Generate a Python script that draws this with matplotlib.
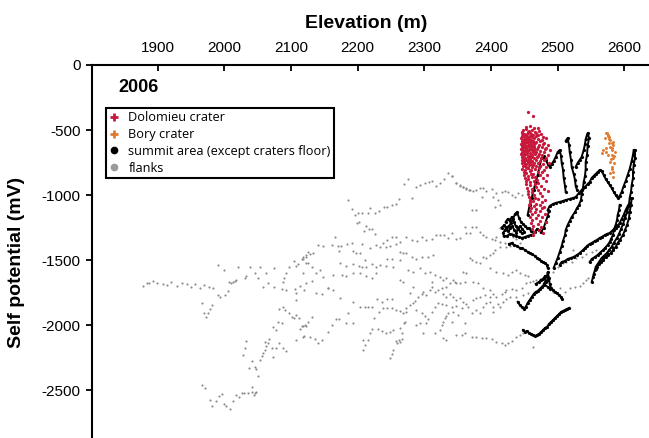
import numpy as np
import matplotlib
matplotlib.use("Agg")
import matplotlib.pyplot as plt
from matplotlib.lines import Line2D

plt.rcParams['font.family'] = ['Liberation Sans', 'DejaVu Sans']
plt.rcParams['axes.unicode_minus'] = False

# (elevation m, self potential mV)

# flanks - grey dots
flanks = [
    (1878, -1699), (1884, -1676), (1887, -1676), (1893, -1661), (1899, -1676), (1908, -1684),
    (1914, -1692), (1920, -1669), (1929, -1699), (1936, -1676), (1944, -1684), (1950, -1707),
    (1956, -1684), (1963, -1715), (1969, -1692), (1977, -1707), (1983, -1715), (1990, -1769),
    (1993, -1784), (2001, -1769), (2005, -1738), (2010, -1676), (2013, -1669), (2016, -1661),
    (1966, -1830), (1981, -1845), (1978, -1876), (1969, -1907), (1972, -1938), (1975, -1907),
    (2033, -2122), (2031, -2174), (2028, -2230), (2041, -2274), (2037, -2332), (2046, -2325),
    (2048, -2340), (2050, -2392), (2053, -2268), (2056, -2238), (2058, -2212), (2061, -2192),
    (2063, -2161), (2065, -2140), (2067, -2105), (2061, -2128), (2071, -2179), (2073, -2243),
    (2077, -2179), (2082, -2140), (2088, -2179), (2093, -2197), (2073, -2012), (2077, -2038),
    (2080, -1974), (2086, -1982), (2091, -1884), (2088, -1863), (2082, -1879), (2097, -1909),
    (2101, -1936), (2104, -1948), (2108, -1922), (2112, -1948), (2113, -2032), (2118, -2007),
    (2122, -2007), (2118, -2089), (2107, -2115),
    (1966, -2461), (1971, -2486), (1978, -2576), (1982, -2622), (1987, -2581), (1992, -2545),
    (1996, -2532), (2003, -2622), (2008, -2648), (2000, -2607), (2013, -2581), (2017, -2538),
    (2022, -2555), (2026, -2525), (2029, -2520), (2035, -2525), (2041, -2478), (2042, -2512),
    (2046, -2520), (2044, -2538), (2048, -2512),
    (2107, -1807), (2108, -1756), (2113, -1699), (2119, -1730), (2106, -1725), (2093, -1730),
    (2086, -1725), (2088, -1666), (2074, -1705), (2065, -1679), (2058, -1709),
    (1990, -1538), (1999, -1576), (2020, -1551), (2031, -1640), (2032, -1622), (2039, -1556),
    (2046, -1602), (2050, -1640), (2053, -1551), (2063, -1597), (2074, -1559), (2089, -1640),
    (2093, -1602), (2097, -1556), (2104, -1505), (2108, -1546), (2110, -1530), (2116, -1494),
    (2118, -1474), (2122, -1461), (2125, -1525), (2118, -1602), (2126, -1436), (2007, -1666),
    (2017, -1653),
    (2185, -1038), (2191, -1110), (2196, -1153), (2199, -1213), (2202, -1205), (2201, -1136),
    (2207, -1140), (2215, -1136), (2219, -1097), (2226, -1136), (2232, -1120), (2239, -1090),
    (2244, -1094), (2251, -1079), (2257, -1069), (2262, -1028), (2270, -915), (2276, -874),
    (2282, -1025), (2287, -936), (2294, -925), (2301, -910), (2307, -897), (2311, -892),
    (2318, -930), (2323, -910), (2330, -879), (2336, -833), (2342, -854), (2348, -910),
    (2354, -923), (2358, -936), (2363, -948), (2367, -961),
    (2209, -1276), (2212, -1238), (2217, -1263), (2221, -1263), (2226, -1300), (2166, -1325),
    (2161, -1386), (2148, -1392), (2140, -1386), (2133, -1448), (2128, -1453), (2122, -1479),
    (2118, -1494), (2123, -1525), (2131, -1551), (2137, -1602), (2143, -1576), (2148, -1628),
    (2155, -1717), (2163, -1615), (2170, -1392), (2175, -1392), (2172, -1428), (2184, -1376),
    (2191, -1371), (2193, -1428), (2206, -1376), (2203, -1448), (2198, -1448), (2211, -1499),
    (2206, -1551), (2218, -1409), (2228, -1384), (2233, -1402), (2238, -1366), (2244, -1346),
    (2243, -1402), (2252, -1320), (2258, -1325), (2263, -1359), (2257, -1376), (2249, -1392),
    (2263, -1436), (2273, -1325), (2281, -1346), (2289, -1351), (2296, -1320), (2303, -1346),
    (2311, -1340), (2318, -1307), (2323, -1307), (2329, -1307), (2335, -1333), (2342, -1290),
    (2348, -1340), (2353, -1333), (2361, -1243), (2363, -1290), (2368, -1294),
    (2244, -1494), (2251, -1494), (2263, -1499), (2268, -1448), (2273, -1448), (2282, -1479),
    (2288, -1494), (2297, -1479), (2305, -1479), (2313, -1461), (2275, -1576), (2283, -1589),
    (2293, -1563), (2301, -1602), (2308, -1589), (2316, -1615), (2323, -1628), (2333, -1640),
    (2343, -1653), (2348, -1679), (2358, -1589), (2363, -1602), (2173, -1525), (2183, -1546),
    (2193, -1530), (2202, -1546), (2213, -1551), (2221, -1530), (2228, -1551), (2233, -1538),
    (2243, -1546), (2253, -1551), (2176, -1615), (2183, -1622), (2193, -1602), (2203, -1602),
    (2213, -1622), (2221, -1640), (2228, -1602),
    (2123, -1679), (2131, -1659), (2138, -1756), (2146, -1761), (2156, -1717), (2163, -1730),
    (2173, -1794), (2193, -1820), (2203, -1859), (2211, -1859), (2215, -1863), (2221, -1859),
    (2229, -1802), (2236, -1820), (2244, -1802), (2251, -1802), (2185, -1909), (2183, -1982),
    (2193, -1986), (2172, -1956), (2167, -1956), (2161, -2000), (2155, -2051), (2146, -2115),
    (2140, -2140), (2136, -2109), (2128, -2089), (2119, -2084), (2131, -1936), (2125, -1974),
    (2121, -2000), (2116, -2007), (2208, -2115), (2211, -2153), (2208, -2192), (2215, -2115),
    (2218, -2063), (2222, -2032), (2231, -2032), (2236, -2043), (2242, -2058), (2248, -2051),
    (2253, -2038), (2263, -2025), (2269, -1986), (2271, -1974), (2267, -2063), (2262, -2115),
    (2259, -2140), (2257, -2120), (2263, -2128), (2266, -2109), (2253, -2192), (2252, -2222),
    (2249, -2255), (2224, -1948), (2232, -1897), (2238, -1871), (2244, -1871), (2251, -1871),
    (2258, -1884), (2263, -1889), (2268, -1909), (2272, -1897), (2273, -1871), (2278, -1845),
    (2283, -1832), (2286, -1812), (2291, -1786), (2296, -1761), (2298, -1743), (2303, -1769),
    (2308, -1730), (2312, -1709), (2316, -1743), (2320, -1730), (2326, -1717), (2328, -1761),
    (2333, -1786), (2338, -1761), (2343, -1782), (2348, -1807), (2353, -1794), (2358, -1820),
    (2363, -1838), (2365, -1859), (2288, -1884), (2296, -1909), (2301, -1930), (2303, -1986),
    (2305, -1956), (2311, -1897), (2316, -1859), (2320, -1828), (2326, -1838), (2333, -1845),
    (2341, -1859), (2348, -1853), (2356, -1871), (2293, -1982), (2288, -2000), (2298, -2058),
    (2316, -2063), (2323, -2038), (2326, -2000), (2328, -1974), (2331, -1948), (2333, -1930),
    (2335, -1909), (2341, -1974), (2328, -2102), (2333, -2115), (2348, -2076), (2356, -2076),
    (2361, -2063), (2361, -1986), (2351, -1922), (2343, -1897), (2333, -1705), (2338, -1679),
    (2346, -1666), (2353, -1679), (2361, -1666), (2278, -1756), (2283, -1709), (2263, -1653),
    (2268, -1666), (2311, -1666), (2328, -1653),
    (2371, -1499), (2378, -1512), (2383, -1525), (2388, -1474), (2393, -1486), (2398, -1461),
    (2403, -1448), (2406, -1423), (2413, -1397), (2421, -1371), (2431, -1359), (2438, -1340),
    (2443, -1371), (2446, -1340), (2451, -1320), (2393, -1325), (2401, -1340), (2406, -1346),
    (2408, -1320), (2371, -1243), (2378, -1243), (2388, -1307), (2371, -1115), (2378, -1115),
    (2406, -1090), (2413, -1076),
    (2373, -1807), (2378, -1794), (2383, -1786), (2391, -1769), (2398, -1782), (2403, -1761),
    (2408, -1782), (2416, -1763), (2421, -1743), (2423, -1730), (2431, -1725), (2438, -1730),
    (2446, -1717), (2453, -1679), (2458, -1666), (2463, -1659), (2468, -1653), (2473, -1648),
    (2478, -1640), (2371, -2089), (2378, -2094), (2386, -2102), (2393, -2102), (2401, -2109),
    (2408, -2128), (2416, -2136), (2421, -2153), (2426, -2140), (2432, -2120), (2438, -2094),
    (2443, -2076), (2448, -2058), (2463, -2166), (2378, -1884), (2388, -1859), (2393, -1832),
    (2398, -1820), (2403, -1859), (2410, -1838), (2418, -1820), (2423, -1802), (2371, -1909),
    (2383, -1909), (2403, -1897), (2413, -1863),
    (2493, -1743), (2503, -1717), (2511, -1743), (2518, -1717), (2526, -1709), (2533, -1699),
    (2538, -1679), (2543, -1653), (2545, -1640), (2513, -1512), (2521, -1512), (2528, -1486),
    (2536, -1474), (2543, -1453), (2551, -1436), (2558, -1423), (2493, -1589), (2500, -1551),
    (2503, -1525), (2508, -1525), (2523, -1423), (2431, -1589), (2438, -1576), (2443, -1597),
    (2451, -1615), (2455, -1622), (2413, -1256), (2421, -1243), (2431, -1294), (2433, -1320),
    (2341, -853), (2348, -910), (2353, -930), (2358, -940), (2363, -956), (2368, -961),
    (2373, -966), (2378, -961), (2383, -948), (2388, -948), (2393, -966), (2401, -956),
    (2408, -982), (2416, -974), (2421, -966), (2426, -974), (2431, -1000), (2436, -1013),
    (2441, -987), (2446, -1000), (2386, -1013), (2403, -1013), (2410, -1038),
    (2383, -1282), (2413, -1359), (2423, -1397), (2428, -1392), (2368, -1486), (2398, -1563),
    (2408, -1589), (2418, -1602), (2425, -1615), (2373, -1666), (2380, -1679), (2388, -1717),
    (2398, -1730), (2428, -1782), (2438, -1782), (2448, -1769), (2455, -1756),
]

# summit area (except craters floor) - black GPS tracks
summit_blob_a = [
    (2418, -1292), (2421, -1269), (2424, -1246), (2427, -1238), (2430, -1215), (2433, -1184),
    (2436, -1146), (2439, -1130), (2442, -1176), (2445, -1207), (2448, -1223), (2451, -1238),
    (2454, -1253), (2457, -1253), (2460, -1276), (2463, -1284), (2466, -1284), (2469, -1261),
    (2472, -1269), (2475, -1284),
]
summit_blob_b = [
    (2419, -1315), (2424, -1315), (2428, -1299), (2433, -1307), (2437, -1315), (2442, -1323),
    (2446, -1330), (2451, -1323), (2455, -1315), (2460, -1307),
]
summit_blob_c = [
    (2422, -1207), (2425, -1184), (2428, -1199), (2431, -1169), (2434, -1207), (2437, -1238),
    (2440, -1261), (2443, -1276), (2446, -1292),
]
summit_blob_d = [
    (2416, -1250), (2420, -1230), (2423, -1262), (2426, -1280), (2429, -1255), (2432, -1240),
    (2435, -1270), (2438, -1290), (2441, -1250), (2444, -1240), (2447, -1262), (2450, -1281),
]
summit_descent = [
    (2427, -1376), (2431, -1369), (2434, -1384), (2439, -1392), (2443, -1407), (2446, -1407),
    (2451, -1423), (2455, -1438), (2458, -1446), (2461, -1453), (2466, -1469), (2469, -1484),
    (2472, -1492), (2475, -1507), (2478, -1515), (2481, -1522), (2484, -1538), (2485, -1561),
]
summit_zig_a = [
    (2455, -1153), (2458, -1076), (2461, -1023), (2464, -961), (2467, -900), (2470, -846),
    (2473, -777), (2476, -715), (2479, -700), (2482, -730), (2485, -761), (2488, -784),
    (2491, -761), (2494, -738), (2497, -707), (2500, -669), (2503, -654), (2505, -700),
    (2506, -753), (2508, -807), (2509, -869), (2511, -930), (2512, -976),
]
summit_zig_b = [
    (2512, -584), (2515, -561), (2517, -615), (2518, -669), (2520, -730), (2521, -784),
    (2524, -838), (2526, -884), (2527, -930), (2529, -961),
]
summit_zig_c = [
    (2527, -784), (2530, -753), (2533, -730), (2536, -707), (2539, -654), (2541, -608),
    (2542, -569), (2544, -538), (2545, -523), (2547, -561), (2545, -623), (2544, -692),
    (2542, -746), (2542, -800), (2541, -853), (2539, -900), (2538, -946), (2536, -992),
    (2535, -1038), (2532, -1076), (2529, -1100), (2526, -1130), (2521, -1169), (2518, -1199),
    (2515, -1230), (2512, -1269), (2511, -1307), (2508, -1353), (2506, -1392), (2503, -1438),
    (2500, -1484), (2497, -1522), (2494, -1561),
]
summit_link = [(2475, -1284), (2479, -1253), (2482, -1207), (2485, -1161), (2487, -1123)]
summit_ridge = [
    (2485, -1115), (2488, -1084), (2493, -1069), (2497, -1061), (2503, -1053), (2508, -1046),
    (2512, -1038), (2518, -1030), (2523, -1023), (2527, -1015), (2532, -984), (2536, -961),
    (2541, -938), (2545, -915), (2548, -900), (2551, -869), (2554, -853), (2557, -838),
    (2560, -823), (2563, -807), (2566, -815), (2569, -846), (2572, -877), (2575, -900),
    (2578, -923), (2581, -946), (2584, -976), (2587, -1000), (2590, -1023), (2593, -1007),
    (2596, -976), (2599, -930), (2602, -892), (2605, -846), (2608, -800), (2611, -738),
    (2613, -692), (2614, -654),
]
summit_arc_a = [
    (2616, -654), (2616, -715), (2614, -769), (2613, -823), (2613, -869), (2611, -923),
    (2610, -976), (2608, -1023), (2607, -1076), (2604, -1130), (2601, -1176), (2598, -1223),
    (2595, -1261), (2592, -1299), (2589, -1330), (2584, -1369), (2581, -1399), (2577, -1423),
    (2574, -1446), (2569, -1469), (2566, -1484), (2563, -1507), (2560, -1530), (2557, -1553),
    (2556, -1576), (2554, -1607), (2553, -1630), (2551, -1669),
]
summit_arc_b = [
    (2611, -1023), (2610, -1076), (2608, -1130), (2607, -1176), (2604, -1230), (2601, -1269),
    (2598, -1307), (2593, -1346), (2590, -1369), (2587, -1399), (2583, -1423), (2580, -1446),
    (2575, -1461), (2572, -1476), (2568, -1499), (2565, -1515), (2562, -1530), (2559, -1553),
    (2557, -1569),
]
summit_arc_c = [
    (2593, -1076), (2592, -1115), (2590, -1153), (2589, -1192), (2587, -1230), (2584, -1269),
    (2583, -1307), (2580, -1338), (2578, -1361), (2575, -1384), (2571, -1407), (2568, -1423),
    (2563, -1446), (2560, -1461), (2556, -1476), (2551, -1492), (2548, -1515),
]
summit_mid = [
    (2503, -1538), (2506, -1515), (2511, -1507), (2515, -1492), (2520, -1484), (2524, -1476),
    (2529, -1461), (2533, -1446), (2538, -1423), (2541, -1407), (2544, -1392), (2548, -1376),
    (2551, -1369), (2556, -1353), (2559, -1346), (2563, -1330), (2566, -1323), (2571, -1307),
    (2574, -1299), (2578, -1292), (2583, -1269), (2587, -1253), (2590, -1238), (2593, -1215),
    (2596, -1184), (2599, -1153), (2602, -1115), (2605, -1084), (2608, -1061),
]
summit_star_a = [
    (2440, -1822), (2443, -1845), (2446, -1861), (2449, -1876), (2452, -1861), (2455, -1830),
    (2458, -1807), (2461, -1784), (2464, -1761), (2467, -1745), (2470, -1738), (2473, -1722),
    (2476, -1707), (2479, -1692), (2482, -1669), (2485, -1653), (2484, -1622), (2485, -1592),
    (2487, -1638), (2488, -1684), (2490, -1715), (2493, -1730), (2496, -1745), (2499, -1753),
    (2502, -1769), (2505, -1784), (2506, -1799),
]
summit_star_b = [
    (2467, -1684), (2472, -1669), (2475, -1653), (2478, -1645), (2481, -1622), (2482, -1661),
    (2479, -1684), (2485, -1707), (2488, -1722),
]
summit_bottom = [
    (2448, -2038), (2451, -2053), (2454, -2045), (2457, -2061), (2460, -2068), (2463, -2076),
    (2466, -2084), (2469, -2076), (2472, -2068), (2475, -2053), (2478, -2038), (2481, -2022),
    (2484, -2015), (2487, -1992), (2490, -1976), (2493, -1961), (2496, -1945), (2499, -1930),
    (2502, -1915), (2505, -1899), (2508, -1892), (2511, -1884), (2514, -1876), (2517, -1869),
]
summit_tracks = [summit_blob_a, summit_blob_b, summit_blob_c, summit_blob_d, summit_descent,
                 summit_zig_a, summit_zig_b, summit_zig_c, summit_link, summit_ridge,
                 summit_arc_a, summit_arc_b, summit_arc_c, summit_mid, summit_star_a,
                 summit_star_b, summit_bottom]

# Dolomieu crater - red
dolomieu = [
    (2455, -365), (2463, -392),
    (2453, -478), (2459, -470), (2464, -485), (2470, -481),
    (2448, -503), (2452, -496), (2457, -508), (2461, -499), (2466, -512), (2472, -505),
    (2446, -522), (2450, -531), (2455, -518), (2459, -526), (2463, -535), (2468, -521), (2475, -529),
    (2447, -545), (2451, -539), (2454, -551), (2458, -543), (2462, -556), (2467, -547), (2471, -538),
    (2478, -552), (2445, -563), (2449, -571), (2453, -559), (2457, -566), (2460, -575), (2465, -561),
    (2470, -569), (2476, -574), (2483, -562), (2446, -584), (2450, -590), (2452, -579), (2456, -595),
    (2459, -586), (2463, -581), (2468, -592), (2474, -583), (2480, -597), (2445, -604), (2448, -611),
    (2451, -600), (2455, -617), (2458, -606), (2462, -613), (2466, -603), (2472, -615), (2478, -607),
    (2486, -612), (2446, -626), (2449, -634), (2453, -622), (2457, -630), (2461, -637), (2465, -624),
    (2470, -633), (2476, -628), (2483, -640), (2445, -645), (2448, -652), (2452, -648), (2456, -657),
    (2460, -643), (2464, -655), (2469, -649), (2474, -660), (2481, -646), (2488, -655), (2446, -668),
    (2450, -675), (2454, -664), (2458, -679), (2463, -670), (2467, -666), (2472, -681), (2479, -673),
    (2445, -688), (2449, -695), (2452, -684), (2456, -699), (2461, -691), (2466, -686), (2471, -702),
    (2477, -694), (2485, -689), (2447, -710), (2451, -717), (2455, -706), (2459, -722), (2464, -713),
    (2469, -708), (2475, -719), (2482, -712), (2446, -731), (2450, -738), (2453, -727), (2458, -744),
    (2462, -735), (2468, -729), (2473, -742), (2480, -733), (2447, -752), (2451, -760), (2456, -749),
    (2460, -765), (2465, -756), (2471, -751), (2478, -763), (2487, -757), (2448, -776), (2452, -784),
    (2457, -772), (2462, -788), (2467, -779), (2474, -774), (2483, -786), (2447, -797), (2451, -806),
    (2455, -793), (2460, -811), (2466, -801), (2472, -795), (2480, -808), (2449, -822), (2453, -830),
    (2458, -818), (2463, -835), (2470, -826), (2477, -820), (2450, -846), (2455, -853), (2460, -841),
    (2466, -858), (2473, -849), (2484, -844), (2451, -868), (2456, -876), (2462, -864), (2469, -881),
    (2478, -872), (2452, -893), (2458, -901), (2464, -889), (2471, -905), (2482, -896), (2453, -918),
    (2459, -926), (2466, -914), (2475, -930), (2454, -944), (2461, -951), (2468, -940), (2479, -955),
    (2455, -968), (2462, -975), (2471, -964), (2485, -972), (2456, -991), (2464, -999), (2474, -988),
    (2457, -1013), (2466, -1021), (2477, -1009), (2458, -1036), (2463, -1044), (2470, -1032),
    (2481, -1040), (2459, -1058), (2467, -1066), (2476, -1054), (2457, -1080), (2465, -1088),
    (2473, -1076), (2480, -1091), (2460, -1103), (2468, -1111), (2477, -1099), (2458, -1126),
    (2466, -1133), (2474, -1122), (2461, -1148), (2471, -1156), (2481, -1144), (2459, -1170),
    (2468, -1178), (2477, -1166), (2462, -1193), (2473, -1201), (2460, -1215), (2470, -1223),
    (2482, -1211), (2463, -1238), (2475, -1246), (2461, -1260), (2472, -1268), (2464, -1283),
    (2478, -1290), (2463, -1305),
    (2447, -515), (2449, -548), (2448, -580), (2447, -598), (2450, -618), (2447, -640), (2449, -660),
    (2448, -700), (2450, -725), (2449, -745), (2451, -770), (2454, -530), (2455, -560), (2454, -590),
    (2453, -640), (2454, -675), (2455, -730), (2452, -760), (2457, -550), (2456, -580), (2458, -620),
    (2457, -650), (2459, -700), (2456, -790), (2460, -530), (2461, -590), (2461, -650), (2462, -710),
    (2463, -770), (2464, -600), (2465, -640),
]

# Bory crater - orange
bory = [
    (2573, -525), (2575, -538), (2577, -556), (2579, -577), (2577, -597), (2581, -602),
    (2583, -615), (2578, -628), (2573, -641), (2568, -654), (2566, -679), (2582, -654),
    (2586, -667), (2581, -692), (2583, -717), (2578, -744), (2584, -756), (2582, -782),
    (2583, -820), (2583, -859), (2575, -692), (2573, -667), (2581, -641), (2577, -571),
    (2576, -546), (2574, -520), (2583, -590), (2580, -725), (2582, -802), (2571, -560),
    (2585, -700), (2579, -830),
]

x_ticks = [1900, 2000, 2100, 2200, 2300, 2400, 2500, 2600]
y_ticks = [0, -500, -1000, -1500, -2000, -2500]

red = '#c8193c'
orange = '#e07a30'
grey = '#8c8c8c'

fig = plt.figure(figsize=(6.49, 4.38), dpi=100)
ax = fig.add_axes([91.7 / 649, 0, 1 - 91.7 / 649, 1 - 65 / 438])

f = np.array(flanks)
ax.scatter(f[:, 0], f[:, 1], s=2.4, c=grey, linewidths=0, zorder=2)

for track in summit_tracks:
    t = np.array(track)
    ax.plot(t[:, 0], t[:, 1], '-', color='black', lw=1.4, marker='o', ms=2.3,
            markeredgewidth=0, zorder=3)

d = np.array(dolomieu)
ax.scatter(d[:, 0], d[:, 1], s=5.5, c=red, linewidths=0, zorder=4)
b = np.array(bory)
ax.scatter(b[:, 0], b[:, 1], s=4.5, c=orange, linewidths=0, zorder=4)

ax.set_xlim(1801, 2637)
ax.set_ylim(-2869, 0)

ax.spines['right'].set_visible(False)
ax.spines['bottom'].set_visible(False)
ax.spines['left'].set_linewidth(1.5)
ax.spines['top'].set_linewidth(1.5)

ax.xaxis.tick_top()
ax.set_xticks(x_ticks)
ax.set_xticklabels([str(v) for v in x_ticks])
ax.tick_params(axis='x', direction='in', length=4.5, width=1.3, labelsize=11, pad=7)
ax.set_yticks(y_ticks)
ax.set_yticklabels([str(v) for v in y_ticks])
ax.tick_params(axis='y', direction='out', length=4.5, width=1.3, labelsize=11, pad=3.5)

fig.text(366 / 649, 1 - 23 / 438, 'Elevation (m)', ha='center', va='center',
         fontsize=14, fontweight='bold')
fig.text(17 / 649, 1 - 262 / 438, 'Self potential (mV)', ha='center', va='center',
         rotation=90, fontsize=14, fontweight='bold')
fig.text(118 / 649, 1 - 88 / 438, '2006', ha='left', va='center',
         fontsize=13, fontweight='bold')

handles = [
    Line2D([], [], ls='none', marker='+', color=red, ms=6, mew=2),
    Line2D([], [], ls='none', marker='+', color=orange, ms=6, mew=2),
    Line2D([], [], ls='none', marker='o', color='black', ms=4.5),
    Line2D([], [], ls='none', marker='o', color='#9a9a9a', ms=4.5),
]
labels = ['Dolomieu crater', 'Bory crater', 'summit area (except craters floor)', 'flanks']
leg = ax.legend(handles, labels, loc='upper left', bbox_to_anchor=(106 / 649, 1 - 108 / 438),
                bbox_transform=fig.transFigure, frameon=True, fancybox=False,
                edgecolor='black', framealpha=1, handlelength=0.8, handletextpad=0.7,
                borderpad=0.25, labelspacing=0.3, borderaxespad=0,
                prop={'family': 'Open Sans', 'size': 9.2})
leg.get_frame().set_linewidth(1.5)

fig.savefig('out.png', dpi=100)
